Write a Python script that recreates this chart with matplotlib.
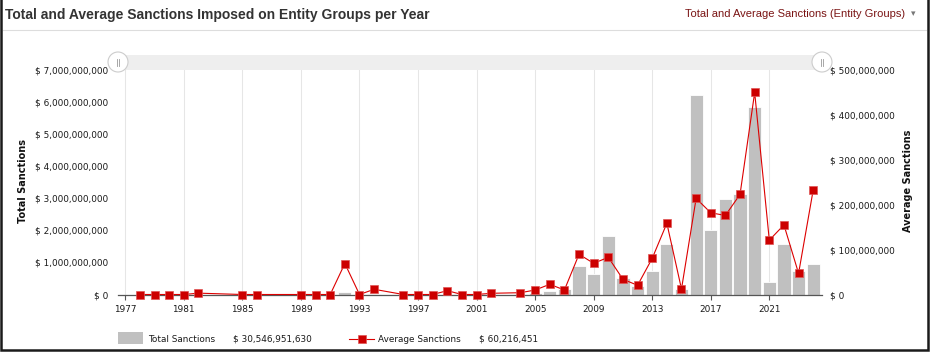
import matplotlib
matplotlib.use("Agg")
import matplotlib.pyplot as plt
from matplotlib.patches import Rectangle, Circle
from matplotlib.lines import Line2D
import numpy as np

# 数据：每年总处罚金额（美元）与平均处罚金额（美元）
bar_years = [1992, 1994, 2002, 2004, 2005, 2006, 2007, 2008, 2009, 2010, 2011, 2012, 2013,
             2014, 2015, 2016, 2017, 2018, 2019, 2020, 2021, 2022, 2023, 2024]
total_sanctions = [0.07e9, 0.02e9, 0.02e9, 0.03e9, 0.05e9, 0.12e9, 0.16e9, 0.89e9, 0.64e9,
                   1.83e9, 0.50e9, 0.27e9, 0.73e9, 1.58e9, 0.16e9, 6.21e9, 2.02e9, 2.99e9,
                   3.14e9, 5.86e9, 0.38e9, 1.57e9, 0.74e9, 0.96e9]

avg_years = [1978, 1979, 1980, 1981, 1982, 1985, 1986, 1989, 1990, 1991, 1992, 1993, 1994,
             1996, 1997, 1998, 1999, 2000, 2001, 2002, 2004, 2005, 2006, 2007, 2008, 2009,
             2010, 2011, 2012, 2013, 2014, 2015, 2016, 2017, 2018, 2019, 2020, 2021, 2022,
             2023, 2024]
avg_sanctions = [0, 0, 0, 0, 3e6, 0, 0, 0, 0, 0, 69e6, 0, 11.6e6,
                 0, 0, 0, 8.5e6, 0, 0, 2.7e6, 4e6, 10e6, 22.7e6, 10e6, 89.5e6, 69.5e6,
                 82.8e6, 33.9e6, 20.5e6, 80.6e6, 158.6e6, 12.2e6, 214e6, 182e6, 176e6, 223e6,
                 450e6, 121e6, 155e6, 47e6, 233e6]

year_ticks = list(range(1977, 2022, 4))
left_ticks = [0, 1e9, 2e9, 3e9, 4e9, 5e9, 6e9, 7e9]
right_ticks = [0, 100e6, 200e6, 300e6, 400e6, 500e6]

title = "Total and Average Sanctions Imposed on Entity Groups per Year"
menu_label = "Total and Average Sanctions (Entity Groups)"
total_label = "$ 30,546,951,630"
avg_label = "$ 60,216,451"

W, H = 930, 352
fig = plt.figure(figsize=(W / 100, H / 100), dpi=100)

def fmt(v):
    return "$ {:,.0f}".format(v)

ax = fig.add_axes([118 / W, 1 - 294.5 / H, 704 / W, 224.5 / H])
ax.bar(bar_years, total_sanctions, width=0.9, color="#c0c0c0", edgecolor="white", linewidth=0.6, zorder=2)
ax.set_xlim(1976.5, 2024.6)
ax.set_ylim(0, 7e9)
ax.set_xticks(year_ticks)
ax.set_xticklabels([str(y) for y in year_ticks])
ax.set_yticks(left_ticks)
ax.set_yticklabels([fmt(v) for v in left_ticks])
ax.tick_params(axis="y", length=0, pad=7, labelsize=6.4, labelcolor="#1a1a1a")
ax.tick_params(axis="x", length=3.5, width=0.8, color="#555555", pad=4, labelsize=6.4, labelcolor="#1a1a1a")
ax.grid(axis="x", color="#e6e6e6", linewidth=0.75, zorder=0)
ax.set_axisbelow(True)
for s in ["top", "left", "right"]:
    ax.spines[s].set_visible(False)
ax.spines["bottom"].set_color("#555555")
ax.spines["bottom"].set_linewidth(0.9)
ax.spines["bottom"].set_zorder(3)
ax.set_ylabel("Total Sanctions", fontsize=7, fontweight="bold", color="#111111", va="center")
ax.yaxis.set_label_coords((22.7 - 118) / 704, 0.505)

ax2 = ax.twinx()
ax2.plot(avg_years, avg_sanctions, color="#dd0000", linewidth=0.8, marker="s", markersize=5.8,
         markerfacecolor="#cc0000", markeredgecolor="#e05555", markeredgewidth=0.5, zorder=4,
         clip_on=False)
ax2.set_ylim(0, 500e6)
ax2.set_yticks(right_ticks)
ax2.set_yticklabels([fmt(v) for v in right_ticks])
ax2.tick_params(axis="y", length=0, pad=6, labelsize=6.4, labelcolor="#1a1a1a")
for s in ["top", "left", "right", "bottom"]:
    ax2.spines[s].set_visible(False)
ax2.set_ylabel("Average Sanctions", fontsize=7, fontweight="bold", color="#111111", va="center")
ax2.yaxis.set_label_coords((908.3 - 118) / 704, 0.505)

# 叠加层：标题、滚动条、图例、边框（像素坐标）
ov = fig.add_axes([0, 0, 1, 1], zorder=5)
ov.set_xlim(0, W)
ov.set_ylim(H, 0)
ov.axis("off")

ov.text(5, 15, title, fontsize=10, fontweight="bold", family="Liberation Sans", color="#333333",
        ha="left", va="center")
ov.text(905, 14, menu_label, fontsize=8, family="Liberation Sans", color="#7a1414",
        ha="right", va="center")
ov.text(913, 13.5, "\u25be", fontsize=6.5, family="DejaVu Sans", color="#777777", ha="center", va="center")
ov.add_line(Line2D([3, 926], [29.5, 29.5], color="#dddddd", linewidth=0.8))

# 滚动条
ov.add_patch(Rectangle((118, 55), 704, 15, facecolor="#eeeeee", edgecolor="none"))
for cx in (118, 822):
    ov.add_patch(Circle((cx, 62), 10, facecolor="white", edgecolor="#cccccc", linewidth=0.8))
    ov.add_line(Line2D([cx - 1.2, cx - 1.2], [58.5, 65.5], color="#999999", linewidth=0.6))
    ov.add_line(Line2D([cx + 1.2, cx + 1.2], [58.5, 65.5], color="#999999", linewidth=0.6))

# 图例
ov.add_patch(Rectangle((118.3, 332), 25, 12, facecolor="#c0c0c0", edgecolor="none"))
ov.text(148, 339, "Total Sanctions", fontsize=6.4, color="#1a1a1a", ha="left", va="center")
ov.text(233, 339, total_label, fontsize=6.4, color="#1a1a1a", ha="left", va="center")
ov.add_line(Line2D([349, 373.5], [339, 339], color="#dd0000", linewidth=0.8))
ov.add_line(Line2D([361.5], [339], marker="s", markersize=5.8, markerfacecolor="#cc0000",
                   markeredgecolor="#e05555", markeredgewidth=0.5, linestyle="none"))
ov.text(378, 339, "Average Sanctions", fontsize=6.4, color="#1a1a1a", ha="left", va="center")
ov.text(479, 339, avg_label, fontsize=6.4, color="#1a1a1a", ha="left", va="center")

# 外边框
ov.add_line(Line2D([1.2, 1.2, 927.8, 927.8], [-5, 349.5, 349.5, -5], color="#1a1a1a",
                   linewidth=1.8, solid_joinstyle="miter"))

fig.savefig("out.png", dpi=100)
